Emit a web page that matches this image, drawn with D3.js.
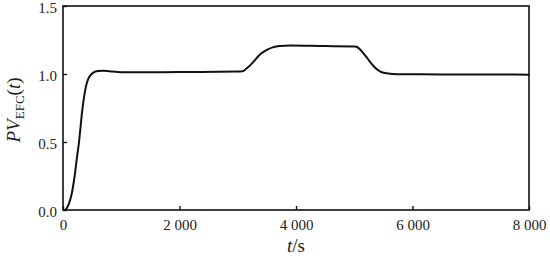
<!DOCTYPE html>
<html>
<head>
<meta charset="utf-8">
<script src="https://cdn.jsdelivr.net/npm/d3@7/dist/d3.min.js"></script>
<style>
  body { margin: 0; background: #fff; }
  svg text { font-family: "Liberation Serif", "Times New Roman", serif; fill: #222; }
</style>
</head>
<body>
<div id="chart"></div>
<script>
// time (s) and PV_EFC values
var times = [0, 30, 60, 100, 150, 200, 235, 275, 330, 390, 430, 470, 520, 600, 700, 800, 1000, 1200,
             2000, 3000, 3080, 3150, 3250, 3320, 3400, 3500, 3600, 3720, 3900, 4500, 5000, 5040,
             5100, 5200, 5270, 5350, 5440, 5550, 5670, 5800, 6500, 7500, 8000];
var values = [0, 0, 0.01, 0.045, 0.12, 0.25, 0.37, 0.5, 0.73, 0.9, 0.96, 0.99, 1.01, 1.022, 1.024, 1.02, 1.013, 1.012,
              1.014, 1.018, 1.02, 1.04, 1.08, 1.115, 1.15, 1.178, 1.196, 1.206, 1.21, 1.205, 1.203, 1.2,
              1.18, 1.13, 1.09, 1.05, 1.02, 1.005, 1.0, 0.998, 0.997, 0.996, 0.995];
var xTicks = [0, 2000, 4000, 6000, 8000];
var yTicks = [0, 0.5, 1.0, 1.5];

var width = 550, height = 259;
var margin = {top: 6, right: 21, bottom: 49, left: 63};

var svg = d3.select('#chart')
  .append('svg')
  .attr('width', width)
  .attr('height', height);

var x = d3.scaleLinear().domain([0, 8000]).range([margin.left, width - margin.right]);
var y = d3.scaleLinear().domain([0, 1.5]).range([height - margin.bottom, margin.top]);

var fmtX = function(d) { return d3.format(',')(d).replace(/,/g, ' '); };

// frame
svg.append('rect')
  .attr('x', x(0)).attr('y', y(1.5))
  .attr('width', x(8000) - x(0)).attr('height', y(0) - y(1.5))
  .attr('fill', 'none').attr('stroke', '#111').attr('stroke-width', 1.6);

var xAxis = svg.append('g')
  .attr('transform', 'translate(0,' + y(0) + ')')
  .call(d3.axisBottom(x).tickValues(xTicks).tickSizeInner(-4).tickSizeOuter(0).tickPadding(9).tickFormat(fmtX));
var yAxis = svg.append('g')
  .attr('transform', 'translate(' + x(0) + ',0)')
  .call(d3.axisLeft(y).tickValues(yTicks).tickSizeInner(-4).tickSizeOuter(0).tickPadding(6).tickFormat(d3.format('.1f')));

[xAxis, yAxis].forEach(function(a) {
  a.attr('font-family', null).attr('font-size', null);
  a.select('.domain').remove();
  a.selectAll('.tick line').attr('stroke', '#111').attr('stroke-width', 1.4);
  a.selectAll('.tick text')
    .style('font-family', '"Liberation Serif", serif')
    .style('font-size', '15px')
    .attr('fill', '#222');
});
yAxis.selectAll('.tick text').attr('dy', '0.45em');

var line = d3.line()
  .x(function(d, i) { return x(times[i]); })
  .y(function(d) { return y(d); })
  .curve(d3.curveMonotoneX);

svg.append('path')
  .datum(values)
  .attr('d', line)
  .attr('fill', 'none')
  .attr('stroke', '#111')
  .attr('stroke-width', 2);

// axis titles
var xt = svg.append('text')
  .attr('x', x(4000)).attr('y', 252)
  .attr('text-anchor', 'middle')
  .style('font-size', '19px');
xt.append('tspan').style('font-style', 'italic').text('t');
xt.append('tspan').text('/s');

var yt = svg.append('text')
  .attr('transform', 'translate(20,' + 110 + ') rotate(-90)')
  .attr('text-anchor', 'middle')
  .style('font-size', '19px');
yt.append('tspan').style('font-style', 'italic').text('PV');
yt.append('tspan').attr('dy', 4).style('font-size', '13px').text('EFC');
yt.append('tspan').attr('dy', -4).text('(');
yt.append('tspan').style('font-style', 'italic').text('t');
yt.append('tspan').text(')');
</script>
</body>
</html>
